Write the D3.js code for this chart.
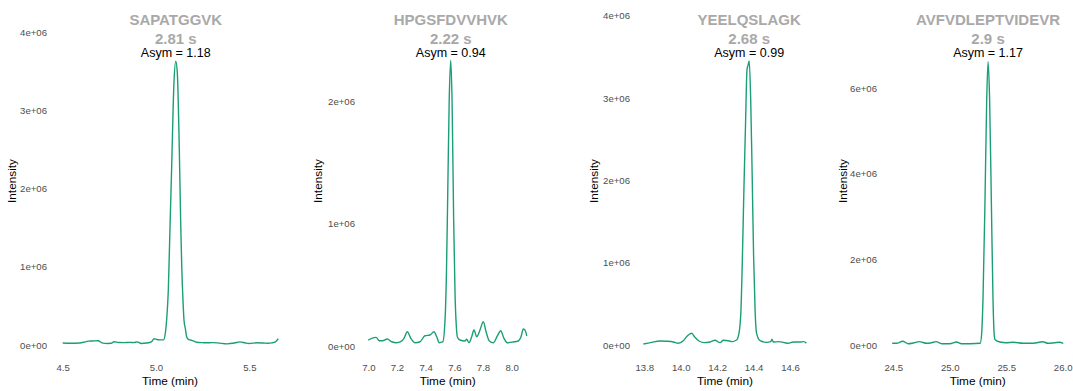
<!DOCTYPE html>
<html>
<head>
<meta charset="utf-8">
<script src="https://cdn.jsdelivr.net/npm/d3@7"></script>
<style>
  html, body { margin: 0; padding: 0; background: #ffffff; }
  svg { display: block; }
  text { font-family: "Liberation Sans", Arial, Helvetica, sans-serif; }
</style>
</head>
<body>
<svg id="chart" width="1073" height="391"></svg>
<script>
// Peptide names, peak widths and asymmetry factors, one per panel
const peptides = ["SAPATGGVK", "HPGSFDVVHVK", "YEELQSLAGK", "AVFVDLEPTVIDEVR"];
const peakWidths = ["2.81 s", "2.22 s", "2.68 s", "2.9 s"];
const asymmetry = ["1.18", "0.94", "0.99", "1.17"];

// Axis ticks for each panel
const xTicks1 = [4.5, 5.0, 5.5];
const xTicks2 = [7.0, 7.2, 7.4, 7.6, 7.8, 8.0];
const xTicks3 = [13.8, 14.0, 14.2, 14.4, 14.6];
const xTicks4 = [24.5, 25.0, 25.5, 26.0];
const yTicks1 = [0, 1e6, 2e6, 3e6, 4e6];
const yTicks2 = [0, 1e6, 2e6];
const yTicks3 = [0, 1e6, 2e6, 3e6, 4e6];
const yTicks4 = [0, 2e6, 4e6, 6e6];

// Extracted ion chromatograms: retention time (min) and intensity
const time1 = [4.500, 4.540, 4.590, 4.620, 4.637, 4.660, 4.690, 4.710, 4.740, 4.760, 4.775, 4.800, 4.830, 4.860, 4.880, 4.900, 4.920, 4.950, 4.975, 4.990, 5.005, 5.020, 5.040, 5.050, 5.057, 5.066, 5.075, 5.084, 5.096, 5.106, 5.114, 5.125, 5.132, 5.138, 5.145, 5.150, 5.158, 5.164, 5.175, 5.191, 5.218, 5.250, 5.270, 5.300, 5.330, 5.380, 5.420, 5.450, 5.480, 5.500, 5.540, 5.575, 5.600, 5.620, 5.640, 5.655];
const inten1 = [25000, 22000, 25000, 40000, 50000, 52000, 55000, 28000, 20000, 22000, 42000, 32000, 30000, 33000, 30000, 40000, 20000, 25000, 40000, 80000, 70000, 65000, 65000, 150000, 320000, 700000, 1500000, 2280000, 3340000, 3630000, 3490000, 2490000, 1600000, 1000000, 550000, 320000, 200000, 106000, 70000, 60000, 35000, 30000, 28000, 30000, 27000, 15000, 25000, 40000, 25000, 20000, 28000, 25000, 22000, 27000, 40000, 83000];

const time2 = [7.000, 7.024, 7.054, 7.077, 7.100, 7.132, 7.163, 7.198, 7.226, 7.249, 7.272, 7.296, 7.326, 7.361, 7.395, 7.430, 7.458, 7.477, 7.495, 7.519, 7.535, 7.545, 7.554, 7.564, 7.575, 7.585, 7.595, 7.605, 7.614, 7.622, 7.639, 7.674, 7.686, 7.702, 7.721, 7.737, 7.756, 7.779, 7.802, 7.821, 7.844, 7.872, 7.900, 7.923, 7.946, 7.969, 8.011, 8.046, 8.065, 8.081, 8.095, 8.105];
const inten2 = [49000, 63000, 71000, 43000, 43000, 57000, 35000, 27000, 35000, 63000, 117000, 63000, 27000, 35000, 84000, 90000, 117000, 76000, 27000, 33000, 210000, 600000, 1250000, 2000000, 2340000, 1950000, 1050000, 420000, 160000, 71000, 49000, 41000, 55000, 27000, 76000, 131000, 76000, 131000, 199000, 117000, 41000, 27000, 82000, 125000, 63000, 27000, 33000, 41000, 76000, 139000, 125000, 82000];

const time3 = [13.795, 13.840, 13.886, 13.923, 13.960, 13.987, 14.014, 14.036, 14.060, 14.078, 14.102, 14.128, 14.161, 14.188, 14.216, 14.234, 14.261, 14.280, 14.307, 14.320, 14.330, 14.338, 14.347, 14.356, 14.364, 14.370, 14.376, 14.384, 14.392, 14.400, 14.408, 14.416, 14.436, 14.472, 14.494, 14.501, 14.508, 14.536, 14.563, 14.590, 14.618, 14.655, 14.675, 14.690];
const inten3 = [16000, 36000, 52000, 49000, 40000, 24000, 56000, 113000, 146000, 97000, 49000, 32000, 40000, 61000, 32000, 61000, 56000, 44000, 64000, 150000, 390000, 1000000, 1900000, 2700000, 3350000, 3400000, 3450000, 3000000, 2100000, 1100000, 450000, 150000, 56000, 36000, 44000, 73000, 40000, 44000, 36000, 24000, 40000, 40000, 44000, 24000];

const time4 = [24.490, 24.530, 24.583, 24.633, 24.677, 24.730, 24.796, 24.840, 24.878, 24.929, 25.000, 25.060, 25.104, 25.180, 25.270, 25.282, 25.294, 25.312, 25.327, 25.339, 25.353, 25.368, 25.383, 25.392, 25.400, 25.445, 25.500, 25.560, 25.650, 25.740, 25.823, 25.870, 25.930, 25.970, 26.005];
const inten4 = [40000, 40000, 86000, 30000, 47000, 78000, 40000, 54000, 78000, 30000, 30000, 70000, 30000, 30000, 40000, 250000, 1050000, 3390000, 5720000, 6620000, 5720000, 3390000, 1050000, 300000, 130000, 70000, 54000, 63000, 40000, 40000, 77000, 40000, 54000, 63000, 40000];

// Panel geometry: where each panel's axes sit on the page
const panels = [
  { time: time1, inten: inten1, xTicks: xTicks1, yTicks: yTicks1,
    xDom: [4.5, 5.5], xRng: [62.7, 249.3], yDom: [0, 4e6], yRng: [345, 32.3],
    yLabelRight: 47, yTitleX: 12, xTitleX: 170 },
  { time: time2, inten: inten2, xTicks: xTicks2, yTicks: yTicks2,
    xDom: [7.0, 8.0], xRng: [368.3, 511.7], yDom: [0, 2e6], yRng: [346, 101.7],
    yLabelRight: 355, yTitleX: 318, xTitleX: 447.7 },
  { time: time3, inten: inten3, xTicks: xTicks3, yTicks: yTicks3,
    xDom: [13.8, 14.6], xRng: [644.3, 790], yDom: [0, 4e6], yRng: [345.3, 15.7],
    yLabelRight: 630, yTitleX: 594, xTitleX: 725 },
  { time: time4, inten: inten4, xTicks: xTicks4, yTicks: yTicks4,
    xDom: [24.5, 26.0], xRng: [893.3, 1062.7], yDom: [0, 6e6], yRng: [345, 88.3],
    yLabelRight: 877, yTitleX: 843, xTitleX: 977.7 }
];

// R-style scientific labels such as 4e+06 and 0e+00
function sciLabel(v) {
  if (v === 0) return "0e+00";
  const e = Math.floor(Math.log10(Math.abs(v)));
  const m = Math.round(v / Math.pow(10, e));
  const es = (e < 10 ? "0" : "") + e;
  return m + "e+" + es;
}

const svg = d3.select("#chart");
const lineColor = "#1b9e77";
const tickColor = "#4d4d4d";
const titleColor = "#a9a9a9";
const tickFont = "9.6px";

panels.forEach((p, i) => {
  const x = d3.scaleLinear().domain(p.xDom).range(p.xRng);
  const y = d3.scaleLinear().domain(p.yDom).range(p.yRng);
  const g = svg.append("g");

  // y axis: labels only, no axis line or tick marks
  const yAxis = d3.axisLeft(y).tickValues(p.yTicks).tickFormat(sciLabel).tickSize(0).tickPadding(0);
  const ya = g.append("g").attr("transform", `translate(${p.yLabelRight},0)`).call(yAxis);
  ya.select(".domain").remove();
  ya.selectAll("text").attr("fill", tickColor).style("font-size", tickFont)
    .style("font-family", '"Liberation Sans", Arial, sans-serif');

  // x axis: labels only
  const xAxis = d3.axisBottom(x).tickValues(p.xTicks).tickFormat(d3.format(".1f")).tickSize(0).tickPadding(0);
  const xa = g.append("g").attr("transform", "translate(0,364.5)").call(xAxis);
  xa.select(".domain").remove();
  xa.selectAll("text").attr("fill", tickColor).style("font-size", tickFont)
    .style("font-family", '"Liberation Sans", Arial, sans-serif');

  // axis titles
  g.append("text").attr("x", p.xTitleX).attr("y", 385).attr("text-anchor", "middle")
    .style("font-size", "11.8px").attr("fill", "#000").text("Time (min)");
  g.append("text").attr("transform", `translate(${p.yTitleX + 4},181) rotate(-90)`)
    .attr("text-anchor", "middle").style("font-size", "11.8px").attr("fill", "#000").text("Intensity");

  // chromatogram trace
  const pts = p.time.map((t, k) => [t, p.inten[k]]);
  const line = d3.line().x(d => x(d[0])).y(d => y(d[1])).curve(d3.curveMonotoneX);
  g.append("path").datum(pts).attr("d", line).attr("fill", "none")
    .attr("stroke", lineColor).attr("stroke-width", 1.4).attr("stroke-linejoin", "round");

  // labels above the apex
  const apex = pts.reduce((a, b) => (b[1] > a[1] ? b : a));
  const ax = x(apex[0]);
  g.append("text").attr("x", ax).attr("y", 25).attr("text-anchor", "middle")
    .style("font-size", "15px").style("font-weight", "bold").attr("fill", titleColor).text(peptides[i]);
  g.append("text").attr("x", ax).attr("y", 44).attr("text-anchor", "middle")
    .style("font-size", "15px").style("font-weight", "bold").attr("fill", titleColor).text(peakWidths[i]);
  g.append("text").attr("x", ax).attr("y", 57).attr("text-anchor", "middle")
    .style("font-size", "12.5px").attr("fill", "#000").text("Asym = " + asymmetry[i]);
});
</script>
</body>
</html>
